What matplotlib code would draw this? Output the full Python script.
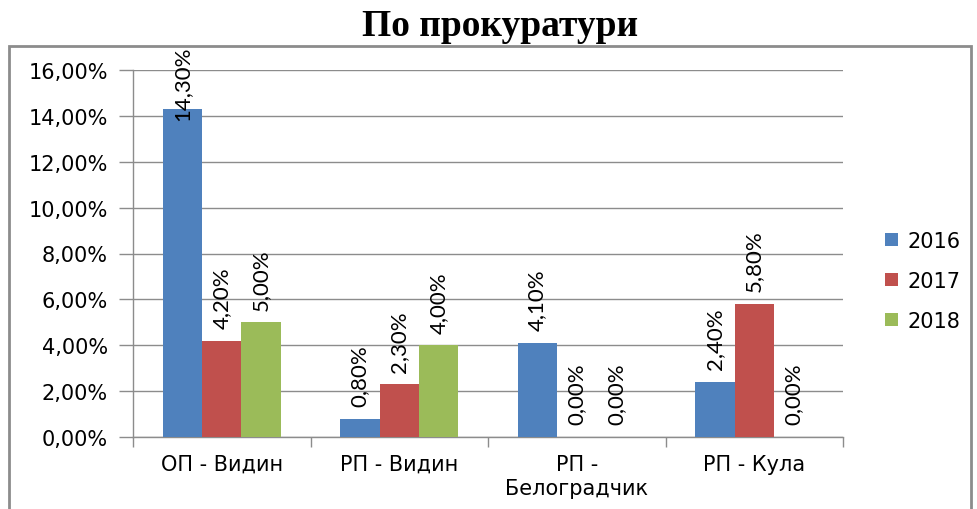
import numpy as np
import matplotlib.pyplot as plt
from matplotlib.patches import Rectangle
from matplotlib.ticker import FixedLocator, FuncFormatter

categories = ["ОП - Видин", "РП - Видин", "РП -\nБелоградчик", "РП - Кула"]
years = ["2016", "2017", "2018"]
v2016 = [14.3, 0.8, 4.1, 2.4]
v2017 = [4.2, 2.3, 0.0, 5.8]
v2018 = [5.0, 4.0, 0.0, 0.0]
colors = ["#4F81BD", "#C0504D", "#9BBB59"]

plt.rcParams["font.family"] = ["DejaVu Sans"]

fig = plt.figure(figsize=(9.77, 5.10), dpi=100)
ax = fig.add_axes([133 / 977, 1 - 438 / 510, 710 / 977, 367 / 510])

# outer frame like the Excel chart area
fig.patches.append(Rectangle((9 / 977, -0.05), 962 / 977, 1 - 47 / 510 + 0.05,
                             transform=fig.transFigure, fill=False,
                             edgecolor="#8c8c8c", linewidth=2.0))

fig.text(0.512, 1 - 27 / 510, "По прокуратури", ha="center", va="center",
         fontsize=27, fontweight="bold", family=["Liberation Serif", "DejaVu Serif"])

x = np.arange(len(categories))
w = 1 / 4.5
labels = []
for i, (vals, lab) in enumerate(zip([v2016, v2017, v2018], years)):
    pos = x + (i - 1) * w
    ax.bar(pos, vals, w, color=colors[i], label=lab, zorder=3)
    for px, v in zip(pos, vals):
        t = ax.annotate(f"{v:.2f}%".replace(".", ","), (px, v), xytext=(0, 9),
                        textcoords="offset points", rotation=90,
                        ha="center", va="bottom", fontsize=16, zorder=4,
                        family=["Liberation Sans Narrow", "Lato", "DejaVu Sans"])
        labels.append(t)

ax.set_xlim(-0.5, 3.5)
ax.set_ylim(0, 16)
ax.set_yticks(np.arange(0, 17, 2))
ax.yaxis.set_major_formatter(FuncFormatter(lambda v, p: f"{v:.2f}%".replace(".", ",")))
ax.grid(axis="y", color="#8c8c8c", linewidth=1.0, zorder=0)

ax.set_xticks(x)
ax.set_xticklabels(categories, fontsize=15, linespacing=1.3)
ax.xaxis.set_minor_locator(FixedLocator(np.arange(-0.5, 4, 1)))
ax.tick_params(axis="x", which="major", length=0, pad=12)
ax.tick_params(axis="x", which="minor", length=7, color="#8c8c8c", width=1)
ax.tick_params(axis="y", length=10, color="#8c8c8c", width=1, labelsize=15, pad=8)

for s in ["top", "right"]:
    ax.spines[s].set_visible(False)
for s in ["left", "bottom"]:
    ax.spines[s].set_color("#8c8c8c")
    ax.spines[s].set_linewidth(1.0)

fig.legend(loc="center left", bbox_to_anchor=(885 / 977, 1 - 282 / 510), frameon=False,
           fontsize=15, handlelength=0.6, handleheight=0.6, labelspacing=0.95,
           handletextpad=0.5, borderpad=0, borderaxespad=0)

# keep labels inside the chart frame, as Excel does
fig.canvas.draw()
r = fig.canvas.get_renderer()
top_px = 510 - 47
for t in labels:
    bb = t.get_window_extent(r)
    if bb.y1 > top_px:
        t.xyann = (0, 9 - (bb.y1 - top_px) * 72 / 100)

fig.savefig("out.png", dpi=100)
